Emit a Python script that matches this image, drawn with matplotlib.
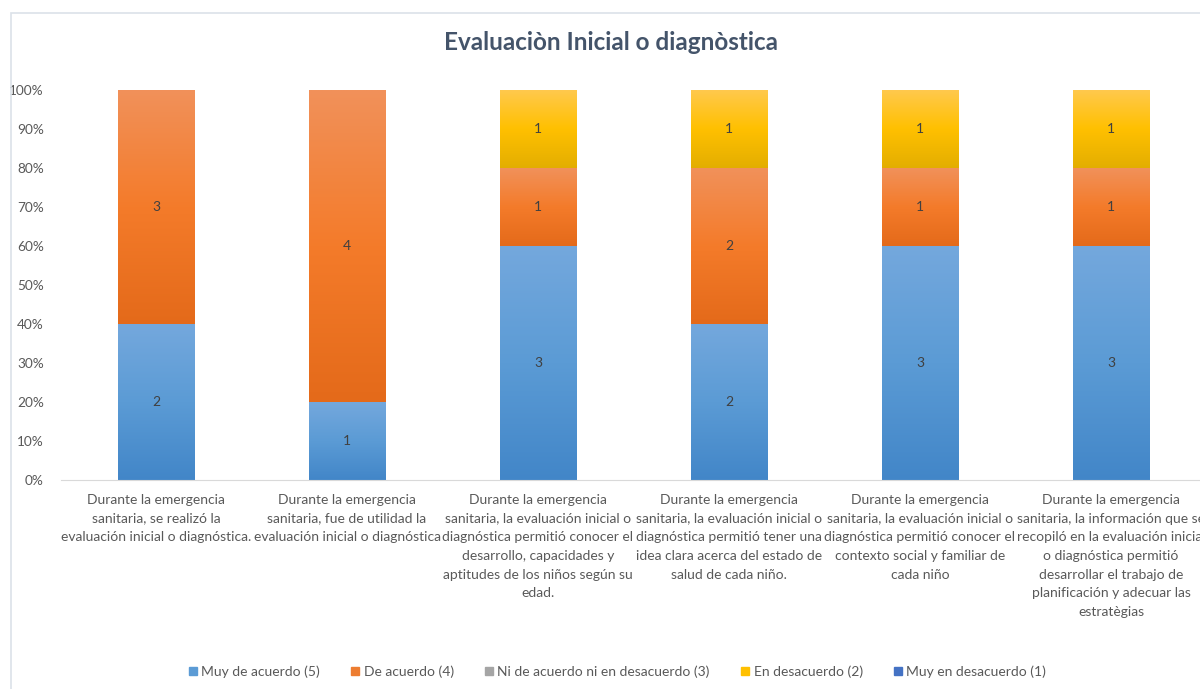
import matplotlib
matplotlib.use("Agg")
import matplotlib.pyplot as plt
import numpy as np
from matplotlib.colors import LinearSegmentedColormap
from matplotlib.patches import Rectangle
from matplotlib.lines import Line2D

plt.rcParams['font.family'] = ['Lato', 'DejaVu Sans']

title = "Evaluaciòn Inicial o diagnòstica"
categories = [
    "Durante la emergencia\nsanitaria, se realizó la\nevaluación inicial o diagnóstica.",
    "Durante la emergencia\nsanitaria, fue de utilidad la\nevaluación inicial o diagnóstica",
    "Durante la emergencia\nsanitaria, la evaluación inicial o\ndiagnóstica permitió conocer el\ndesarrollo, capacidades y\naptitudes de los niños según su\nedad.",
    "Durante la emergencia\nsanitaria, la evaluación inicial o\ndiagnóstica permitió tener una\nidea clara acerca del estado de\nsalud de cada niño.",
    "Durante la emergencia\nsanitaria, la evaluación inicial o\ndiagnóstica permitió conocer el\ncontexto social y familiar de\ncada niño",
    "Durante la emergencia\nsanitaria, la información que se\nrecopiló en la evaluación inicial\no diagnóstica permitió\ndesarrollar el trabajo de\nplanificación y adecuar las\nestratègias",
]
series_names = ["Muy de acuerdo (5)", "De acuerdo (4)",
                "Ni de acuerdo ni en desacuerdo (3)", "En desacuerdo (2)",
                "Muy en desacuerdo (1)"]
muy_de_acuerdo = [2, 1, 3, 2, 3, 3]
de_acuerdo = [3, 4, 1, 2, 1, 1]
ni_ni = [0, 0, 0, 0, 0, 0]
en_desacuerdo = [0, 0, 1, 1, 1, 1]
muy_en_desacuerdo = [0, 0, 0, 0, 0, 0]
series_values = [muy_de_acuerdo, de_acuerdo, ni_ni, en_desacuerdo, muy_en_desacuerdo]

# gradient stops: top (light), middle (base), bottom (dark)
grad_colors = [
    ("#74A8DD", "#5B9BD5", "#4286C8"),
    ("#F1915A", "#F47B2A", "#E46A1A"),
    ("#B8B8B8", "#A5A5A5", "#919191"),
    ("#FFC94D", "#FFC000", "#E3AE00"),
    ("#5A80C8", "#4472C4", "#3560B0"),
]
legend_colors = ["#5B9BD5", "#ED7D31", "#A5A5A5", "#FFC000", "#4472C4"]

fig = plt.figure(figsize=(12, 6.89), dpi=100)
ax = fig.add_axes([60.5 / 1200, 1 - 480 / 689, 1146 / 1200, 390 / 689])

# chart frame
fig.patches.append(Rectangle((10.5 / 1200, -0.1), 1.2, 1 - 12.5 / 689 + 0.1,
                             transform=fig.transFigure, fill=False,
                             edgecolor="#DCE2E9", linewidth=1.2))

x = np.arange(len(categories))
data = np.array(series_values, dtype=float)
totals = data.sum(axis=0)
fracs = data / totals
bottom = np.zeros(len(categories))
width = 0.4

for i, (name, vals) in enumerate(zip(series_names, fracs)):
    bars = ax.bar(x, vals, width, bottom=bottom, color="none", linewidth=0)
    cmap = LinearSegmentedColormap.from_list("g%d" % i,
                                             [grad_colors[i][2], grad_colors[i][1], grad_colors[i][0]])
    grad = np.linspace(0, 1, 256).reshape(-1, 1)
    for j, b in enumerate(bars):
        h = b.get_height()
        if h <= 0:
            continue
        bx, by, bw = b.get_x(), b.get_y(), b.get_width()
        ax.imshow(grad, cmap=cmap, origin="lower", aspect="auto",
                  extent=(bx, bx + bw, by, by + h), zorder=2, interpolation="bilinear")
        ax.text(bx + bw / 2, by + h / 2, "%d" % data[i, j], ha="center", va="center",
                fontsize=10, color="#404040", zorder=3)
    bottom = bottom + vals

ax.set_xlim(-0.5, len(categories) - 0.5)
ax.set_ylim(0, 1)
ax.set_yticks(np.linspace(0, 1, 11))
ax.set_yticklabels(["%d%%" % v for v in range(0, 101, 10)])
ax.set_xticks(x)
ax.set_xticklabels(categories, fontsize=10, color="#595959", linespacing=1.67)
ax.tick_params(axis="y", length=0, labelsize=9.8, labelcolor="#595959", pad=12)
ax.tick_params(axis="x", length=0, pad=10)
for s in ["top", "right", "left"]:
    ax.spines[s].set_visible(False)
ax.spines["bottom"].set_color("#D9D9D9")
ax.spines["bottom"].set_zorder(4)

fig.text(611 / 1200, 1 - 43 / 689, title, ha="center", va="center",
         fontsize=17.5, fontweight="bold", color="#44546A")

handles = [Line2D([], [], marker="s", linestyle="none", markersize=6,
                  markerfacecolor=c, markeredgecolor=c) for c in legend_colors]
fig.legend(handles, series_names, loc="center", bbox_to_anchor=(616 / 1200, 1 - 672 / 689),
           ncol=5, frameon=False, fontsize=10, labelcolor="#595959",
           handletextpad=0.1, columnspacing=2.05, handlelength=1.0)

fig.savefig("out.png", dpi=100)
